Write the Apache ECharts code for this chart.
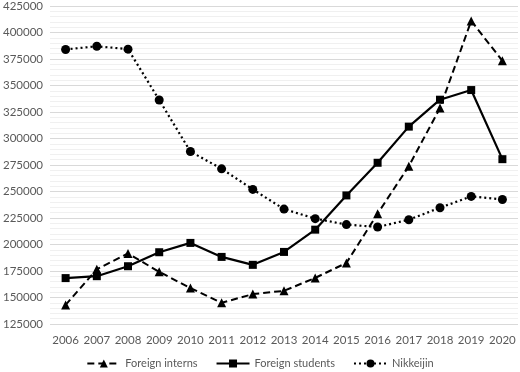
<!DOCTYPE html>
<html>
<head>
<meta charset="utf-8">
<script src="https://cdn.jsdelivr.net/npm/echarts@6/dist/echarts.min.js"></script>
<style>
html,body{margin:0;padding:0;background:#fff;}
#chart{width:520px;height:372px;}
</style>
</head>
<body>
<div id="chart"></div>
<script>
var years = ["2006","2007","2008","2009","2010","2011","2012","2013","2014","2015","2016","2017","2018","2019","2020"];
var interns = [143000,176700,191500,174200,158900,145000,153200,156300,168500,182600,229100,273900,328800,410900,373300];
var students = [168300,170100,179500,192700,201500,188300,180800,193000,214000,246300,277100,311200,336600,345700,280500];
var nikkeijin = [384000,387000,384300,336300,287700,271400,252000,233400,224400,218800,216500,223400,234700,245400,242500];

var chart = echarts.init(document.getElementById('chart'));
var font = 'Lato';
chart.setOption({
	animation: false,
	grid: { left: 47, right: 2, top: 5, bottom: 48 },
	xAxis: {
		type: 'category',
		data: years,
		axisLine: { show: false },
		axisTick: { show: false },
		axisLabel: { color: '#595959', fontSize: 11.5, fontFamily: font, margin: 10, interval: 0 }
	},
	yAxis: {
		type: 'value',
		min: 125000,
		max: 425000,
		interval: 25000,
		axisLabel: { color: '#595959', fontSize: 11.5, fontFamily: font, margin: 7,
			formatter: function (v) { return String(v); } },
		splitLine: { lineStyle: { color: '#d9d9d9', width: 1 } },
		minorTick: { show: false, splitNumber: 5 },
		minorSplitLine: { show: true, lineStyle: { color: '#f0f0f0', width: 1 } }
	},
	legend: {
		top: 358,
		left: 'center',
		padding: 0,
		itemWidth: 33,
		itemHeight: 10,
		itemGap: 18,
		textStyle: { color: '#595959', fontSize: 11, fontFamily: font }
	},
	series: [
		{
			name: 'Foreign interns', type: 'line', data: interns,
			symbol: 'triangle', symbolSize: 9,
			itemStyle: { color: '#000' },
			lineStyle: { color: '#000', width: 2, type: [7, 4] }
		},
		{
			name: 'Foreign students', type: 'line', data: students,
			symbol: 'rect', symbolSize: 8,
			itemStyle: { color: '#000' },
			lineStyle: { color: '#000', width: 2.2 }
		},
		{
			name: 'Nikkeijin', type: 'line', data: nikkeijin,
			symbol: 'circle', symbolSize: 9,
			itemStyle: { color: '#000' },
			lineStyle: { color: '#000', width: 2.2, type: [2, 3] }
		}
	]
});
</script>
</body>
</html>
